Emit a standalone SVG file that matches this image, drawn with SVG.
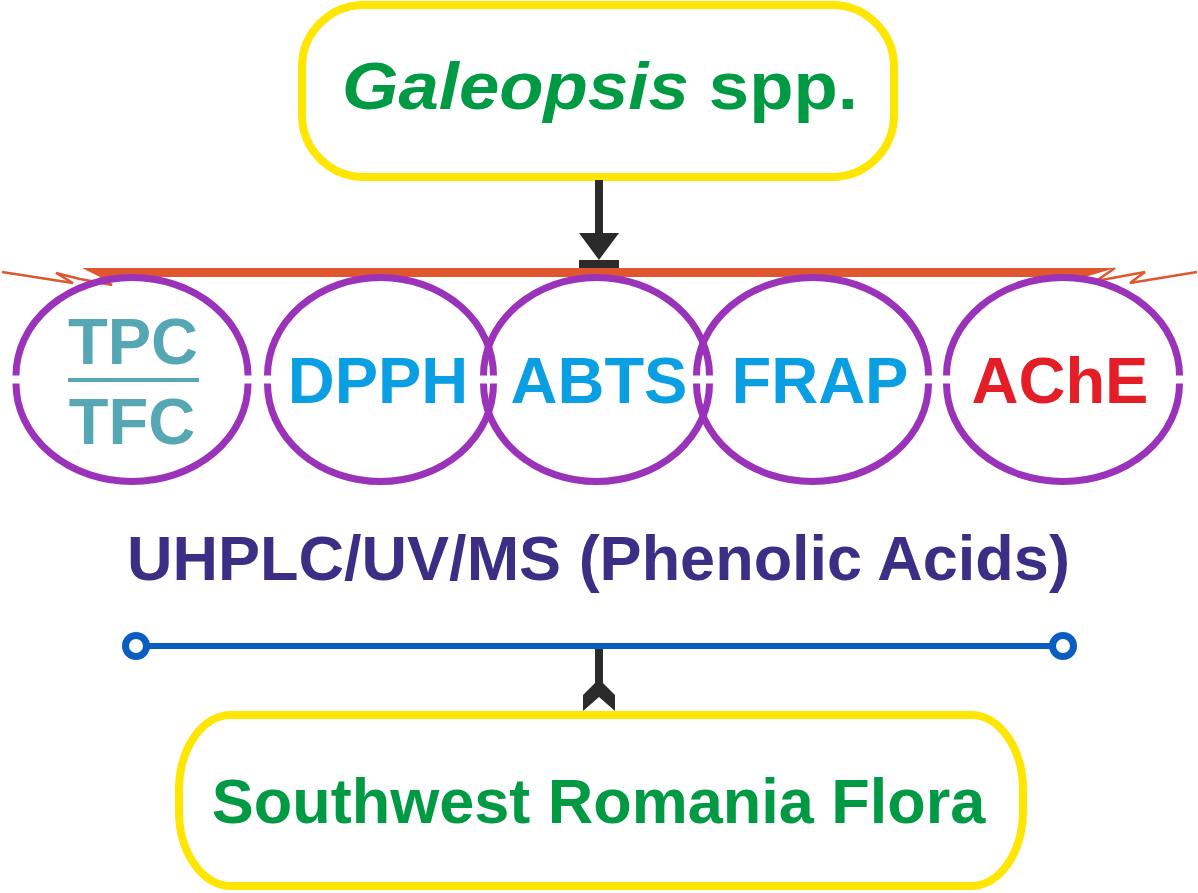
<svg xmlns="http://www.w3.org/2000/svg" width="1198" height="893" viewBox="0 0 1198 893">
<style>
.box{fill:#fff;stroke:#FFE600;stroke-width:8}
.ell{fill:none;stroke:#9A33B9;stroke-width:7}
.t{font-family:"Liberation Sans",Arial,sans-serif;font-weight:bold;text-anchor:middle}
.green{fill:#009A44}
.blue{fill:#0A9FE2}
.teal{fill:#55A7B4}
</style>
<rect width="1198" height="893" fill="#fff"/>
<g id="node-galeopsis">
<rect class="box" x="302" y="5" width="592" height="172" rx="62" ry="62"/>
<text class="t green" x="600" y="109" font-size="66" textLength="516" lengthAdjust="spacingAndGlyphs"><tspan font-style="italic">Galeopsis</tspan> spp.</text>
</g>
<g id="connectors">
<path d="M595,180 L603,180 L603,233 L619,233 L599,260 L579,233 L595,233 Z" fill="#2B2B2B"/>
<rect x="579" y="260" width="40" height="8" fill="#2B2B2B"/>
<polygon points="82,268 1115,268 1085,277 100,277" fill="#E0562F"/>
<polyline points="100,277 112,285 80,279 56,273 73,283 2,272" fill="none" stroke="#E0562F" stroke-width="2.5" stroke-linejoin="miter"/>
<polyline points="1115,268 1096,281 1145,272 1130,283 1197,272" fill="none" stroke="#E0562F" stroke-width="2.5"/>
<line x1="136" y1="646" x2="1063" y2="646" stroke="#0A5EC0" stroke-width="6"/>
<circle cx="136" cy="646" r="10.5" fill="#fff" stroke="#0A5EC0" stroke-width="7"/>
<circle cx="1063" cy="646" r="10.5" fill="#fff" stroke="#0A5EC0" stroke-width="7"/>
<path d="M595,649 L603,649 L603,683 L615,695 L615,711 L599,697 L583,711 L583,695 L595,683 Z" fill="#2B2B2B"/>
</g>
<g id="node-tpc">
<path class="ell" d="M16,375.5 A116,98 0 0 1 248,375.5 M248,383.5 A116,98 0 0 1 16,383.5"/>
<text class="t teal" x="133" y="364" font-size="65">TPC</text>
<rect x="68" y="378" width="131" height="4" fill="#55A7B4"/>
<text class="t teal" x="132" y="444" font-size="65">TFC</text>
</g>
<g id="node-dpph">
<path class="ell" d="M267.5,375.5 A113,98 0 0 1 493.5,375.5 M493.5,383.5 A113,98 0 0 1 267.5,383.5"/>
<text class="t blue" x="378" y="403" font-size="65">DPPH</text>
</g>
<g id="node-abts">
<path class="ell" d="M483.5,375.5 A113,98 0 0 1 709.5,375.5 M709.5,383.5 A113,98 0 0 1 483.5,383.5"/>
<text class="t blue" x="599" y="403" font-size="65">ABTS</text>
</g>
<g id="node-frap">
<path class="ell" d="M696.5,375.5 A116,98 0 0 1 928.5,375.5 M928.5,383.5 A116,98 0 0 1 696.5,383.5"/>
<text class="t blue" x="820" y="403" font-size="65">FRAP</text>
</g>
<g id="node-ache">
<path class="ell" d="M946.5,375.5 A116.5,98 0 0 1 1179.5,375.5 M1179.5,383.5 A116.5,98 0 0 1 946.5,383.5"/>
<text class="t" x="1060" y="403" font-size="65" fill="#E31E26">AChE</text>
</g>
<g id="label-uhplc">
<text class="t" x="598.5" y="580" font-size="63" fill="#3A2F85">UHPLC/UV/MS (Phenolic Acids)</text>
</g>
<g id="node-romania">
<rect class="box" x="179" y="715" width="844" height="171" rx="52" ry="75"/>
<text class="t green" x="598.5" y="823" font-size="63">Southwest Romania Flora</text>
</g>
</svg>
